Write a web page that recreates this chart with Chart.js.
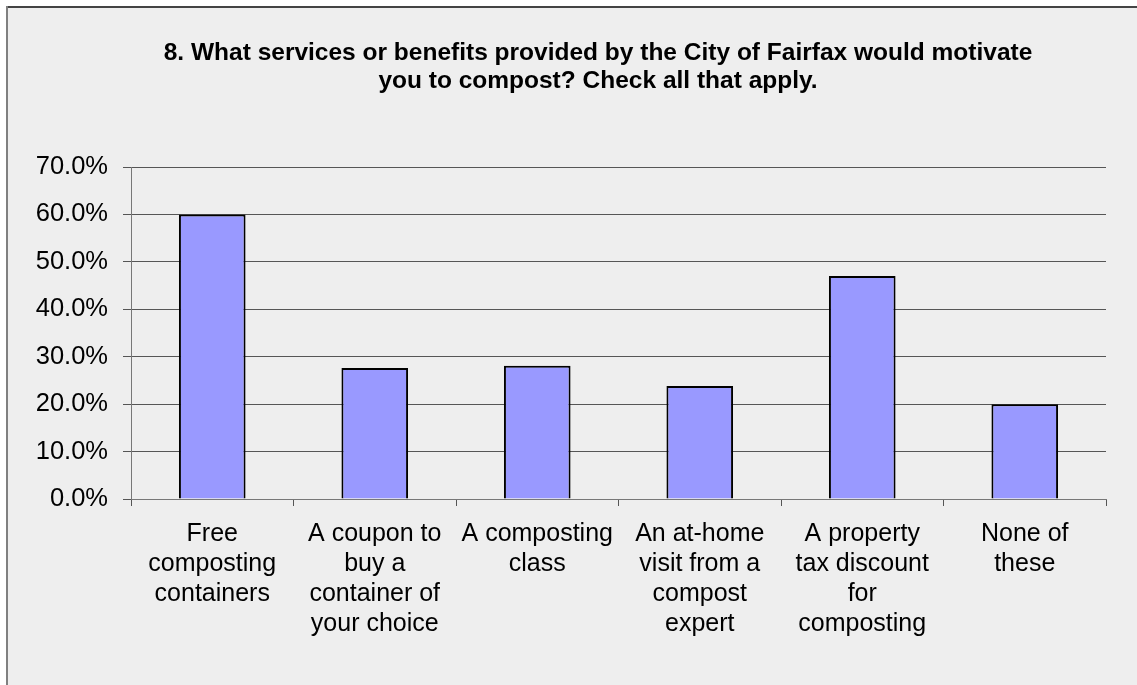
<!DOCTYPE html>
<html>
<head>
<meta charset="utf-8">
<script src="https://cdn.jsdelivr.net/npm/chart.js@4"></script>
<style>
  html, body { margin: 0; padding: 0; background: #ffffff; }
  #wrap { width: 1137px; height: 685px; }
</style>
</head>
<body>
<div id="wrap"><canvas id="compostChart" width="1137" height="685"></canvas></div>
<script>
const categories = [
    ['Free', 'composting', 'containers'],
    ['A coupon to', 'buy a', 'container of', 'your choice'],
    ['A composting', 'class'],
    ['An at-home', 'visit from a', 'compost', 'expert'],
    ['A property', 'tax discount', 'for', 'composting'],
    ['None of', 'these']
];
const percentages = [60.0, 27.6, 28.1, 23.8, 47.0, 20.0];
const titleLines = [
    '8. What services or benefits provided by the City of Fairfax would motivate',
    'you to compost? Check all that apply.'
];

// grey panel with the frame on its top and left edges
const panelBackground = {
    id: 'panelBackground',
    beforeDraw(chart) {
        const c = chart.ctx;
        c.save();
        c.fillStyle = '#ffffff';
        c.fillRect(0, 0, chart.width, chart.height);
        c.fillStyle = '#eeeeee';
        c.fillRect(7, 7, chart.width - 7, chart.height - 7);
        c.fillStyle = '#444444';
        c.fillRect(6, 6, chart.width - 6, 2);
        c.fillStyle = '#808080';
        c.fillRect(6, 6, 2, chart.height - 6);
        c.restore();
    }
};

// the title is centred on the whole panel (which runs on past the right edge),
// not on the plot, so it is drawn here instead of by the title plugin
const panelTitle = {
    id: 'panelTitle',
    afterDraw(chart) {
        const c = chart.ctx;
        c.save();
        c.fillStyle = '#000000';
        c.font = 'bold 24.5px "Liberation Sans"';
        c.textAlign = 'center';
        c.textBaseline = 'middle';
        titleLines.forEach((line, i) => c.fillText(line, 598, 53 + i * 28));
        c.restore();
    }
};

const ctx = document.getElementById('compostChart').getContext('2d');
const compostChart = new Chart(ctx, {
    type: 'bar',
    data: {
        labels: categories,
        datasets: [{
            data: percentages,
            backgroundColor: '#9999ff',
            borderColor: '#000000',
            borderWidth: 2,
            categoryPercentage: 1.0,
            barPercentage: 0.41
        }]
    },
    options: {
        responsive: false,
        animation: false,
        layout: {
            padding: { left: 10, right: 31, top: 167, bottom: 0 }
        },
        plugins: {
            legend: { display: false },
            tooltip: { enabled: false },
            title: { display: false }
        },
        scales: {
            x: {
                offset: true,
                grid: {
                    display: true,
                    offset: true,
                    drawOnChartArea: false,
                    drawTicks: true,
                    tickLength: 7,
                    color: '#555555'
                },
                border: { display: true, color: '#777777', width: 1 },
                ticks: {
                    color: '#000000',
                    maxRotation: 0,
                    autoSkip: false,
                    padding: 13,
                    font: { family: 'Liberation Sans', size: 25, lineHeight: 1.2 }
                },
                afterFit(scale) { scale.height = 186; }
            },
            y: {
                min: 0,
                max: 70,
                grid: {
                    color: '#555555',
                    tickLength: 8,
                    lineWidth: 1
                },
                border: { display: true, color: '#777777', width: 1 },
                ticks: {
                    stepSize: 10,
                    color: '#000000',
                    padding: 15,
                    font: { family: 'Liberation Sans', size: 25.5 },
                    callback: value => value.toFixed(1) + '%'
                },
                afterFit(scale) { scale.width = 121; }
            }
        }
    },
    plugins: [panelBackground, panelTitle]
});
</script>
</body>
</html>
